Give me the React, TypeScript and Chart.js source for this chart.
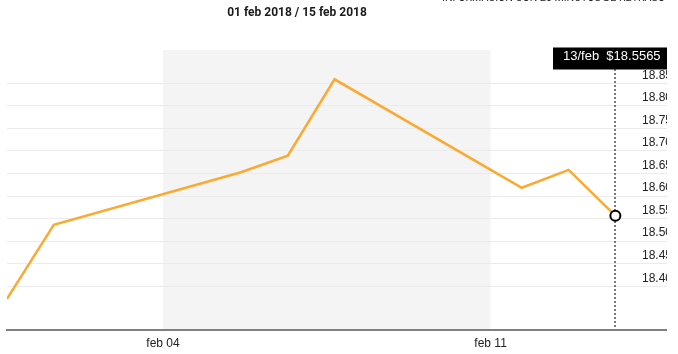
import React, { useEffect, useRef } from 'react';
import { Chart, registerables } from 'chart.js';

Chart.register(...registerables);

// ---- data ----
const pointDays = [0, 1, 5, 6, 7, 11, 12, 13]; // day of February (0 = 31 Jan)
const pointLabels = ['31/ene', '01/feb', '05/feb', '06/feb', '07/feb', '11/feb', '12/feb', '13/feb'];
const prices = [18.372, 18.5365, 18.653, 18.6895, 18.859, 18.6185, 18.658, 18.5565];
const POINT_HOUR = 16;
const tickDays = [4, 11];
const tickLabels = ['feb 04', 'feb 11'];
const shadeDays = [4, 11];
const yTicks = [18.4, 18.45, 18.5, 18.55, 18.6, 18.65, 18.7, 18.75, 18.8, 18.85];
const Y_MIN = 18.303;
const Y_MAX = 18.924;
const X_MIN = -1 / 3;
const X_MAX = 13.77;
const TITLE = '01 feb 2018 / 15 feb 2018';
const NOTICE = 'INFORMACIÓN CON 20 MINUTOS DE RETRASO';

const dayToX = (d: number) => d - 1;
const pointX = (d: number) => d - 1 + POINT_HOUR / 24;

const shadePlugin = {
  id: 'shade',
  beforeDraw(chart: any) {
    const { ctx, chartArea, scales } = chart;
    const x0 = scales.x.getPixelForValue(dayToX(shadeDays[0]));
    const x1 = scales.x.getPixelForValue(dayToX(shadeDays[1]));
    ctx.save();
    ctx.fillStyle = '#f4f4f4';
    ctx.fillRect(x0, chartArea.top, x1 - x0, chartArea.bottom - chartArea.top);
    ctx.restore();
  },
};

const crosshairPlugin = {
  id: 'crosshair',
  beforeDatasetsDraw(chart: any) {
    const { ctx, chartArea } = chart;
    const meta = chart.getDatasetMeta(0);
    const pt = meta.data[meta.data.length - 1];
    const x = Math.round(pt.x);
    ctx.save();
    ctx.strokeStyle = '#7a7a7a';
    ctx.lineWidth = 2;
    ctx.setLineDash([2, 2]);
    ctx.beginPath();
    ctx.moveTo(x, chartArea.top + 19);
    ctx.lineTo(x, chartArea.bottom);
    ctx.stroke();
    ctx.restore();
  },
  afterDraw(chart: any) {
    const { ctx, chartArea } = chart;
    const meta = chart.getDatasetMeta(0);
    const i = meta.data.length - 1;
    const pt = meta.data[i];
    const text = pointLabels[i] + '  $' + prices[i].toFixed(4);
    ctx.save();
    ctx.font = '13px "Liberation Sans", Arial, sans-serif';
    const w = ctx.measureText(text).width;
    const left = Math.round(pt.x) - 62;
    const top = chartArea.top - 2.5;
    ctx.fillStyle = '#000000';
    ctx.fillRect(left, top, w + 20, 22);
    ctx.fillStyle = '#ffffff';
    ctx.textBaseline = 'middle';
    ctx.textAlign = 'left';
    ctx.fillText(text, left + 10, top + 9);
    ctx.restore();
  },
};

export default function App() {
  const canvasRef = useRef<HTMLCanvasElement | null>(null);

  useEffect(() => {
    const canvas = canvasRef.current;
    if (!canvas) return;
    const last = prices.length - 1;
    const chart = new Chart(canvas, {
      type: 'line',
      data: {
        datasets: [
          {
            data: prices.map((v, i) => ({ x: pointX(pointDays[i]), y: v })),
            borderColor: '#FAAA32',
            borderWidth: 2.5,
            tension: 0,
            fill: false,
            pointRadius: (c: any) => (c.dataIndex === last ? 5 : 0),
            pointHoverRadius: 0,
            pointBackgroundColor: '#ffffff',
            pointBorderColor: '#000000',
            pointBorderWidth: 2,
          },
        ],
      },
      options: {
        responsive: false,
        animation: false,
        events: [],
        layout: { padding: { top: 50, right: 33, left: 0, bottom: 0 } },
        plugins: {
          legend: { display: false },
          tooltip: { enabled: false },
          title: { display: false },
        },
        scales: {
          x: {
            type: 'linear',
            min: X_MIN,
            max: X_MAX,
            afterBuildTicks: (scale: any) => {
              scale.ticks = tickDays.map((d) => ({ value: dayToX(d) }));
            },
            afterFit: (scale: any) => {
              scale.height = 24;
            },
            grid: { display: false, drawTicks: false },
            border: { display: true, color: '#808080', width: 2 },
            ticks: {
              autoSkip: false,
              maxRotation: 0,
              padding: 6,
              color: '#222222',
              font: { family: '"Liberation Sans", Arial, sans-serif', size: 12 },
              callback: (_v: any, idx: number) => tickLabels[idx],
            },
          },
          y: {
            type: 'linear',
            position: 'right',
            min: Y_MIN,
            max: Y_MAX,
            afterBuildTicks: (scale: any) => {
              scale.ticks = yTicks.map((v) => ({ value: v }));
            },
            afterFit: (scale: any) => {
              scale.width = 7;
            },
            grid: { color: '#ebebeb', lineWidth: 1, drawTicks: false },
            border: { display: false },
            ticks: {
              mirror: true,
              padding: 5,
              labelOffset: -8,
              color: '#222222',
              font: { family: '"Liberation Sans", Arial, sans-serif', size: 12 },
              callback: (v: any) => Number(v).toFixed(2),
            },
          },
        },
      },
      plugins: [shadePlugin, crosshairPlugin],
    } as any);
    return () => chart.destroy();
  }, []);

  return (
    <div
      style={{
        position: 'fixed',
        left: 0,
        top: 0,
        width: 678,
        height: 354,
        overflow: 'hidden',
        background: '#ffffff',
      }}
    >
      <div
        style={{
          position: 'absolute',
          left: 0,
          top: 0,
          width: 667,
          height: 354,
          overflow: 'hidden',
        }}
      >
        <canvas
          ref={canvasRef}
          width={707}
          height={354}
          style={{ position: 'absolute', left: 0, top: 0, width: 707, height: 354 }}
        />
      </div>
      <div
        style={{
          position: 'absolute',
          left: 197,
          top: 4,
          width: 200,
          textAlign: 'center',
          font: 'bold 12px Roboto, sans-serif',
          lineHeight: '16px',
          color: '#1a1a1a',
          whiteSpace: 'nowrap',
        }}
      >
        {TITLE}
      </div>
      <div
        style={{
          position: 'absolute',
          right: 13,
          top: -7,
          font: '10.6px Roboto, sans-serif',
          lineHeight: '10px',
          color: '#222222',
          whiteSpace: 'nowrap',
        }}
      >
        {NOTICE}
      </div>
    </div>
  );
}
